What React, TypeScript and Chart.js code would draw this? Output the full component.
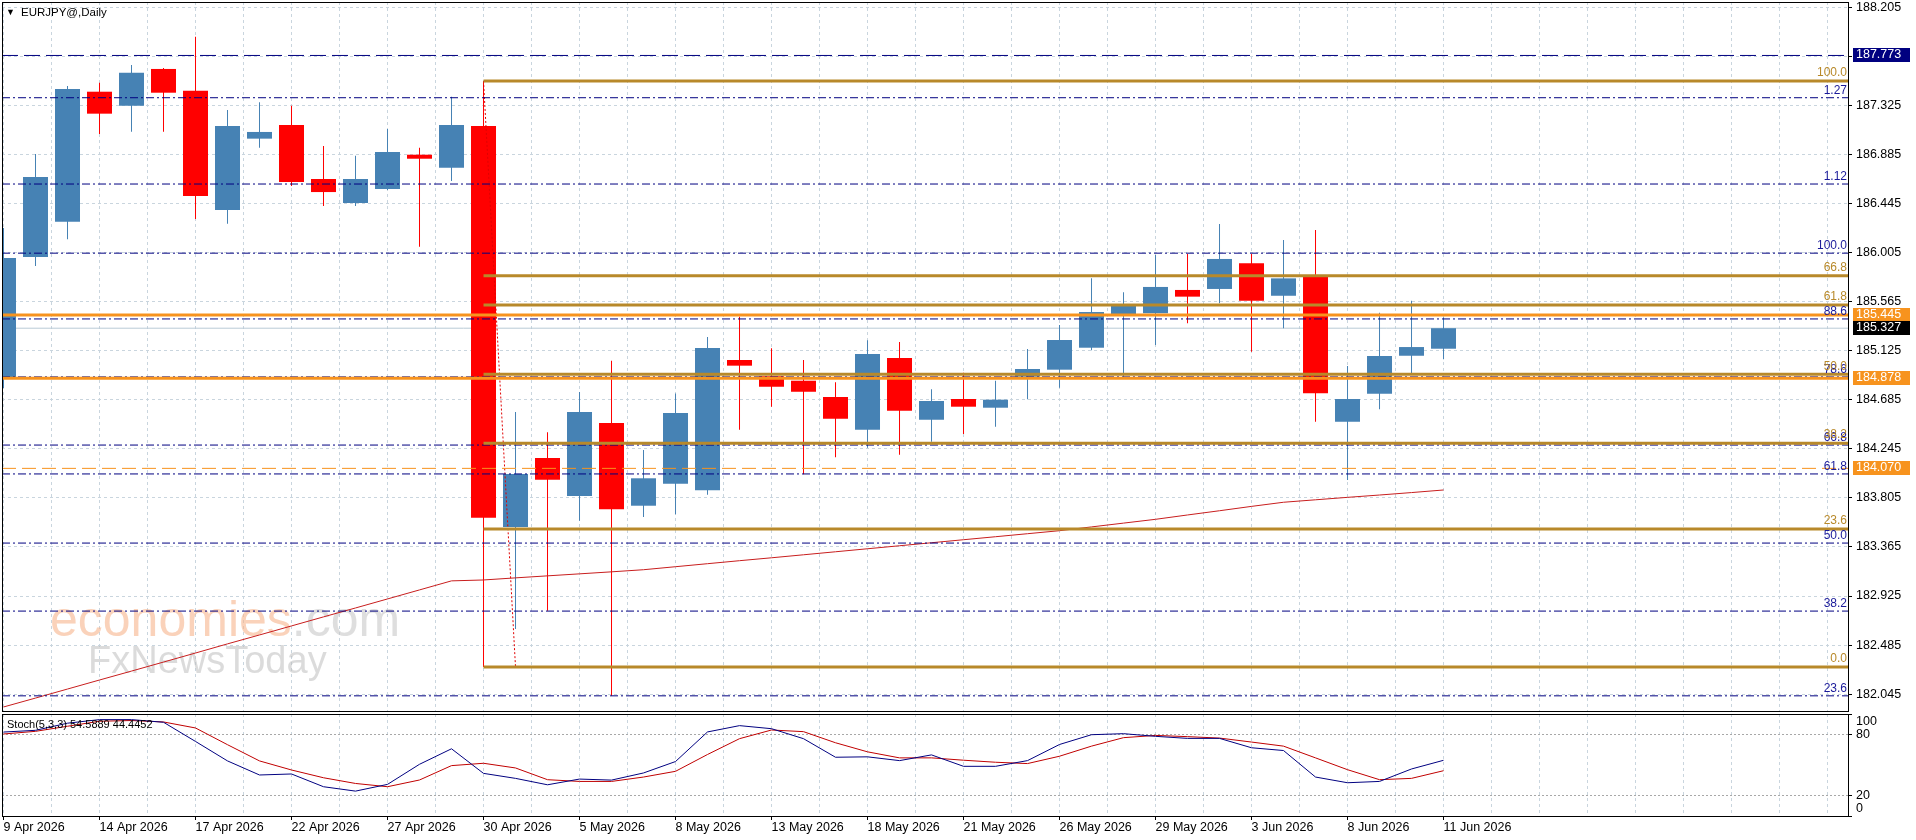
import React, { useEffect, useRef } from "react";
import { Chart, registerables } from "chart.js";

Chart.register(...registerables);

// ---------------- DATA ----------------
const DATES = [
  "9 Apr 2026", "10 Apr 2026", "13 Apr 2026", "14 Apr 2026", "15 Apr 2026", "16 Apr 2026", "17 Apr 2026",
  "20 Apr 2026", "21 Apr 2026", "22 Apr 2026", "23 Apr 2026", "24 Apr 2026", "27 Apr 2026", "28 Apr 2026",
  "29 Apr 2026", "30 Apr 2026", "1 May 2026", "4 May 2026", "5 May 2026", "6 May 2026", "7 May 2026",
  "8 May 2026", "11 May 2026", "12 May 2026", "13 May 2026", "14 May 2026", "15 May 2026", "18 May 2026",
  "19 May 2026", "20 May 2026", "21 May 2026", "22 May 2026", "25 May 2026", "26 May 2026", "27 May 2026",
  "28 May 2026", "29 May 2026", "1 Jun 2026", "2 Jun 2026", "3 Jun 2026", "4 Jun 2026", "5 Jun 2026",
  "8 Jun 2026", "9 Jun 2026", "10 Jun 2026", "11 Jun 2026",
];

const OPEN = [
  184.888, 185.966, 186.282, 187.448, 187.322, 187.652, 187.457, 186.387, 187.027, 187.149,
  186.665, 186.450, 186.575, 186.883, 186.766, 187.140, 183.544, 184.163, 183.822, 184.477,
  183.735, 183.933, 183.873, 185.042, 184.896, 184.856, 184.710, 184.417, 185.060, 184.506,
  184.692, 184.614, 184.892, 184.955, 185.152, 185.454, 185.461, 185.670, 185.679, 185.909,
  185.618, 185.798, 184.488, 184.740, 185.080, 185.143,
];
const HIGH = [
  186.226, 186.889, 187.499, 187.529, 187.688, 187.660, 187.941, 187.284, 187.353, 187.322,
  186.961, 186.874, 187.114, 186.946, 187.403, 187.544, 184.575, 184.393, 184.754, 185.036,
  184.234, 184.741, 185.248, 185.430, 185.147, 185.042, 184.842, 185.218, 185.203, 184.779,
  184.928, 184.856, 185.140, 185.356, 185.774, 185.649, 185.983, 185.992, 186.262, 185.992,
  186.118, 186.208, 184.988, 185.466, 185.574, 185.425,
];
const LOW = [
  184.790, 185.885, 186.124, 187.069, 187.089, 187.089, 186.306, 186.264, 186.946, 186.602,
  186.423, 186.423, 186.566, 186.058, 186.647, 182.288, 182.629, 182.793, 183.600, 182.031,
  183.634, 183.658, 183.834, 184.417, 184.623, 184.017, 184.169, 184.255, 184.192, 184.309,
  184.378, 184.444, 184.689, 184.793, 185.130, 184.892, 185.176, 185.371, 185.550, 185.116,
  185.326, 184.488, 183.966, 184.600, 184.923, 185.048,
];
const CLOSE = [
  185.956, 186.683, 187.472, 187.251, 187.618, 187.439, 186.513, 187.140, 187.087, 186.638,
  186.548, 186.665, 186.907, 186.847, 187.149, 183.627, 184.019, 183.968, 184.575, 183.703,
  183.981, 184.566, 185.149, 184.991, 184.802, 184.757, 184.515, 185.095, 184.587, 184.674,
  184.623, 184.686, 184.961, 185.221, 185.472, 185.535, 185.697, 185.610, 185.948, 185.574,
  185.774, 184.743, 184.692, 185.077, 185.158, 185.327,
];

const MA = [
  181.930, 182.010, 182.091, 182.172, 182.252, 182.333, 182.414, 182.496, 182.576, 182.657,
  182.738, 182.818, 182.899, 182.980, 183.061, 183.069, 183.088, 183.106, 183.124, 183.142,
  183.161, 183.188, 183.215, 183.242, 183.268, 183.295, 183.322, 183.349, 183.376, 183.403,
  183.430, 183.457, 183.484, 183.511, 183.545, 183.579, 183.613, 183.652, 183.690, 183.729,
  183.766, 183.788, 183.810, 183.831, 183.853, 183.876,
];

const STOCH_K = [
  82.3, 84.0, 91.0, 94.5, 94.5, 91.9, 73.1, 54.0, 40.2, 41.2,
  28.7, 24.4, 31.0, 50.7, 65.9, 41.8, 36.9, 30.6, 36.2, 35.2,
  42.2, 53.4, 82.4, 88.6, 85.6, 75.8, 57.6, 58.0, 54.3, 59.9,
  48.7, 48.7, 54.3, 70.1, 79.7, 80.7, 78.1, 76.1, 76.1, 66.9,
  64.2, 38.2, 32.6, 33.9, 46.1, 54.6,
];
const STOCH_D = [
  80.4, 83.0, 88.0, 92.9, 93.6, 92.2, 86.3, 69.9, 54.0, 45.1,
  37.5, 31.9, 28.7, 35.3, 49.4, 51.7, 47.1, 35.6, 33.9, 33.9,
  38.2, 43.8, 60.3, 75.8, 84.3, 82.7, 71.8, 62.9, 57.0, 57.0,
  54.7, 52.7, 51.4, 58.6, 68.5, 76.8, 79.0, 77.8, 76.4, 72.5,
  68.5, 57.0, 45.4, 35.6, 36.9, 44.4,
];

const PRICE_TICKS = [
  188.205, 187.765, 187.325, 186.885, 186.445, 186.005, 185.565, 185.125,
  184.685, 184.245, 183.805, 183.365, 182.925, 182.485, 182.045,
];
const STOCH_TICKS = [100, 80, 20, 0];
const STOCH_LEVELS = [80, 20];

const FIB_A_LEVELS = [187.544, 185.798, 185.535, 184.914, 184.296, 183.526, 182.288];
const FIB_A_LABELS = ["100.0", "66.8", "61.8", "50.0", "38.2", "23.6", "0.0"];
const FIB_A_FROM = 15;

const FIB_B_LEVELS = [187.394, 186.620, 186.000, 185.410, 184.890, 184.279, 184.020, 183.400, 182.790, 182.030];
const FIB_B_LABELS = ["1.27", "1.12", "100.0", "88.6", "78.6", "66.8", "61.8", "50.0", "38.2", "23.6"];

const ORANGE_LEVELS = [185.445, 184.878];
const ORANGE_DASH_LEVELS = [184.070];
const NAVY_DASH_LEVELS = [187.773];
const LAST_PRICE = 185.327;

const TREND_X = [15, 16];
const TREND_Y = [187.544, 182.288];

const BOX_LEVELS = [187.773, 185.445, 185.327, 184.878, 184.070];
const BOX_KINDS = ["navy", "orange", "black", "orange", "orange"];

const TITLE = "EURJPY@,Daily";
const STOCH_TITLE = "Stoch(5,3,3) 54.5889 44.4452";

// ---------------- STYLE ----------------
const FONT = "'Liberation Sans', Arial, sans-serif";
const BLUE = "#4682B4";
const RED = "#FF0000";
const GOLD = "#B8892A";
const ORANGE = "#F7931E";
const NAVY = "#000080";
const GRID = "#C9D5DE";
const MA_RED = "#C81E1E";
const BOX_COLORS: Record<string, string> = { navy: "#000080", orange: ORANGE, black: "#000000" };

const X_MIN = -0.047;
const X_MAX = 57.64;
const Y_MIN = 181.894;
const Y_MAX = 188.2525;

function gridTicks(scale: any) {
  const t: any[] = [];
  for (let k = 0; k * 1.5 <= X_MAX; k++) t.push({ value: k * 1.5 });
  scale.ticks = t;
}

function noPad(s: any) {
  s.paddingTop = 0;
  s.paddingBottom = 0;
  s.paddingLeft = 0;
  s.paddingRight = 0;
}

function hline(y: number, x0: number, color: string, width: number, dash: number[], order: number) {
  return {
    type: "line",
    data: [{ x: x0, y }, { x: X_MAX, y }],
    borderColor: color,
    borderWidth: width,
    borderDash: dash,
    pointRadius: 0,
    tension: 0,
    order,
  };
}

const frame = (chart: any) => {
  const { ctx, chartArea: a } = chart;
  ctx.save();
  ctx.strokeStyle = "#000";
  ctx.lineWidth = 1;
  ctx.strokeRect(a.left + 0.5, a.top + 0.5, a.right - a.left, a.bottom - a.top);
  ctx.restore();
};

const mainOverlay = {
  id: "mainOverlay",
  beforeDatasetsDraw(chart: any) {
    const { ctx } = chart;
    ctx.save();
    ctx.textBaseline = "alphabetic";
    ctx.textAlign = "left";
    ctx.font = `50px ${FONT}`;
    ctx.fillStyle = "rgba(247,180,140,0.6)";
    ctx.fillText("economies", 50, 636);
    const w = ctx.measureText("economies").width;
    ctx.fillStyle = "rgba(200,200,200,0.6)";
    ctx.fillText(".com", 50 + w, 636);
    ctx.font = `38px ${FONT}`;
    ctx.fillStyle = "rgba(190,190,190,0.55)";
    ctx.fillText("FxNewsToday", 88, 673);
    ctx.restore();
  },
  afterDraw(chart: any) {
    const { ctx, chartArea: a, scales } = chart;
    const ys = scales.y;
    frame(chart);
    ctx.save();
    // fib labels
    ctx.font = `12px ${FONT}`;
    ctx.textAlign = "right";
    ctx.textBaseline = "bottom";
    FIB_B_LEVELS.forEach((v, i) => {
      ctx.fillStyle = "#1A1A9A";
      ctx.fillText(FIB_B_LABELS[i], a.right - 1, ys.getPixelForValue(v) - 1);
    });
    FIB_A_LEVELS.forEach((v, i) => {
      ctx.fillStyle = GOLD;
      ctx.fillText(FIB_A_LABELS[i], a.right - 1, ys.getPixelForValue(v) - 2);
    });
    // axis label boxes
    ctx.font = `12.5px ${FONT}`;
    ctx.textAlign = "left";
    ctx.textBaseline = "middle";
    BOX_LEVELS.forEach((v, i) => {
      const py = ys.getPixelForValue(v);
      ctx.fillStyle = BOX_COLORS[BOX_KINDS[i]];
      ctx.fillRect(a.right + 5, Math.round(py) - 7, 57, 14);
      ctx.fillStyle = "#FFFFFF";
      ctx.fillText(v.toFixed(3), a.right + 8, Math.round(py));
    });
    // title
    ctx.fillStyle = "#000";
    ctx.font = `9px ${FONT}`;
    ctx.fillText("▼", 6, 13);
    ctx.font = `11.5px ${FONT}`;
    ctx.fillText(TITLE, 21, 13);
    ctx.restore();
  },
};

const stochOverlay = {
  id: "stochOverlay",
  afterDraw(chart: any) {
    const { ctx, chartArea: a, scales } = chart;
    const ys = scales.y;
    frame(chart);
    ctx.save();
    ctx.fillStyle = "#000";
    ctx.textAlign = "left";
    ctx.textBaseline = "middle";
    ctx.font = `12.5px ${FONT}`;
    STOCH_TICKS.forEach((v) => {
      const py = Math.min(Math.max(ys.getPixelForValue(v), a.top + 8), a.bottom - 7);
      ctx.fillText(String(v), a.right + 8, py);
    });
    ctx.font = `11px ${FONT}`;
    ctx.fillText(STOCH_TITLE, 7, a.top + 11);
    ctx.restore();
  },
};

export default function App() {
  const mainRef = useRef<HTMLCanvasElement | null>(null);
  const stochRef = useRef<HTMLCanvasElement | null>(null);

  useEffect(() => {
    document.body.style.margin = "0";
    Chart.defaults.font.family = FONT;
    Chart.defaults.color = "#000";

    const colors = OPEN.map((o, i) => (CLOSE[i] >= o ? BLUE : RED));

    const datasets: any[] = [
      ...NAVY_DASH_LEVELS.map((v) => hline(v, X_MIN, NAVY, 1, [16, 6], 1)),
      ...ORANGE_LEVELS.map((v) => hline(v, X_MIN, ORANGE, 3, [], 1)),
      ...ORANGE_DASH_LEVELS.map((v) => hline(v, X_MIN, ORANGE, 1, [14, 6], 1)),
      ...FIB_A_LEVELS.map((v) => hline(v, FIB_A_FROM, GOLD, 3, [], 2)),
      ...FIB_B_LEVELS.map((v) => hline(v, X_MIN, NAVY, 1, [8, 3, 2, 3], 3)),
      {
        type: "line",
        data: TREND_X.map((x, i) => ({ x, y: TREND_Y[i] })),
        borderColor: "#E00000",
        borderWidth: 1,
        borderDash: [2, 2],
        pointRadius: 0,
        order: 4,
      },
      {
        type: "line",
        data: MA.map((v, i) => ({ x: i, y: v })),
        borderColor: MA_RED,
        borderWidth: 1,
        pointRadius: 0,
        tension: 0,
        order: 5,
      },
      {
        type: "bar",
        data: OPEN.map((o, i) => ({ x: i, y: [o, CLOSE[i]] })),
        backgroundColor: colors,
        borderWidth: 0,
        barThickness: 25,
        grouped: false,
        inflateAmount: 0,
        minBarLength: 1,
        order: 19,
      },
      {
        type: "bar",
        data: LOW.map((l, i) => ({ x: i, y: [l, HIGH[i]] })),
        backgroundColor: colors,
        borderWidth: 0,
        barThickness: 1,
        grouped: false,
        inflateAmount: 0,
        order: 20,
      },
      { ...hline(LAST_PRICE, X_MIN, "#B9CAD6", 1, [], 21) },
    ];

    const main = new Chart(mainRef.current as HTMLCanvasElement, {
      type: "bar",
      data: { datasets },
      options: {
        animation: false,
        responsive: false,
        devicePixelRatio: 1,
        events: [],
        layout: { padding: { left: 2, top: 2, right: 0, bottom: 2 } },
        plugins: { legend: { display: false }, tooltip: { enabled: false } },
        scales: {
          x: {
            type: "linear",
            min: X_MIN,
            max: X_MAX,
            offset: false,
            afterBuildTicks: gridTicks,
            afterFit: (s: any) => { s.height = 0; noPad(s); },
            ticks: { display: false },
            grid: { color: GRID, drawTicks: false, offset: false },
            border: { display: false, dash: [3, 3] },
          },
          y: {
            type: "linear",
            position: "right",
            min: Y_MIN,
            max: Y_MAX,
            afterBuildTicks: (s: any) => { s.ticks = PRICE_TICKS.map((v) => ({ value: v })); },
            afterFit: (s: any) => { s.width = 68; noPad(s); },
            ticks: {
              callback: (v: any) => Number(v).toFixed(3),
              padding: 4,
              color: "#000",
              font: { size: 12.5 },
            },
            grid: { color: GRID, tickColor: "#000", tickLength: 4 },
            border: { display: false, dash: [3, 3] },
          },
        },
      } as any,
      plugins: [mainOverlay],
    });

    const stoch = new Chart(stochRef.current as HTMLCanvasElement, {
      type: "line",
      data: {
        datasets: [
          {
            data: STOCH_K.map((v, i) => ({ x: i, y: v })),
            borderColor: NAVY,
            borderWidth: 1,
            pointRadius: 0,
            tension: 0,
          },
          {
            data: STOCH_D.map((v, i) => ({ x: i, y: v })),
            borderColor: "#C00000",
            borderWidth: 1,
            pointRadius: 0,
            tension: 0,
          },
        ],
      },
      options: {
        animation: false,
        responsive: false,
        devicePixelRatio: 1,
        events: [],
        layout: { padding: { left: 2, top: 1, right: 0, bottom: 0 } },
        plugins: { legend: { display: false }, tooltip: { enabled: false } },
        scales: {
          x: {
            type: "linear",
            min: X_MIN,
            max: X_MAX,
            offset: false,
            afterBuildTicks: gridTicks,
            afterFit: (s: any) => { s.height = 24; noPad(s); },
            ticks: {
              autoSkip: false,
              maxRotation: 0,
              minRotation: 0,
              align: "start",
              padding: 0,
              color: "#000",
              font: { size: 12.5 },
              callback: (v: any) => {
                const i = Math.round(Number(v));
                return Math.abs(Number(v) - i) < 1e-6 && i % 3 === 0 && i < DATES.length ? DATES[i] : "";
              },
            },
            grid: {
              color: GRID,
              tickLength: 4,
              tickColor: (c: any) => {
                const v = c.tick ? c.tick.value : 0.5;
                const i = Math.round(v);
                return Math.abs(v - i) < 1e-6 && i % 3 === 0 && i < DATES.length ? "#000" : "rgba(0,0,0,0)";
              },
            },
            border: { display: false, dash: [3, 3] },
          },
          y: {
            type: "linear",
            position: "right",
            min: 0,
            max: 100,
            afterBuildTicks: (s: any) => { s.ticks = STOCH_TICKS.map((v) => ({ value: v })); },
            afterFit: (s: any) => { s.width = 68; noPad(s); },
            ticks: { display: false },
            grid: {
              color: (c: any) => (c.tick && STOCH_LEVELS.includes(c.tick.value) ? "#A8A8A8" : "rgba(0,0,0,0)"),
              tickColor: "#000",
              tickLength: 4,
            },
            border: { display: false, dash: [2, 2] },
          },
        },
      } as any,
      plugins: [stochOverlay],
    });

    return () => {
      main.destroy();
      stoch.destroy();
    };
  }, []);

  return (
    <div style={{ position: "relative", width: 1916, height: 840, background: "#fff", overflow: "hidden" }}>
      <canvas ref={mainRef} width={1916} height={713} style={{ position: "absolute", left: 0, top: 0 }} />
      <canvas ref={stochRef} width={1916} height={127} style={{ position: "absolute", left: 0, top: 713 }} />
    </div>
  );
}
